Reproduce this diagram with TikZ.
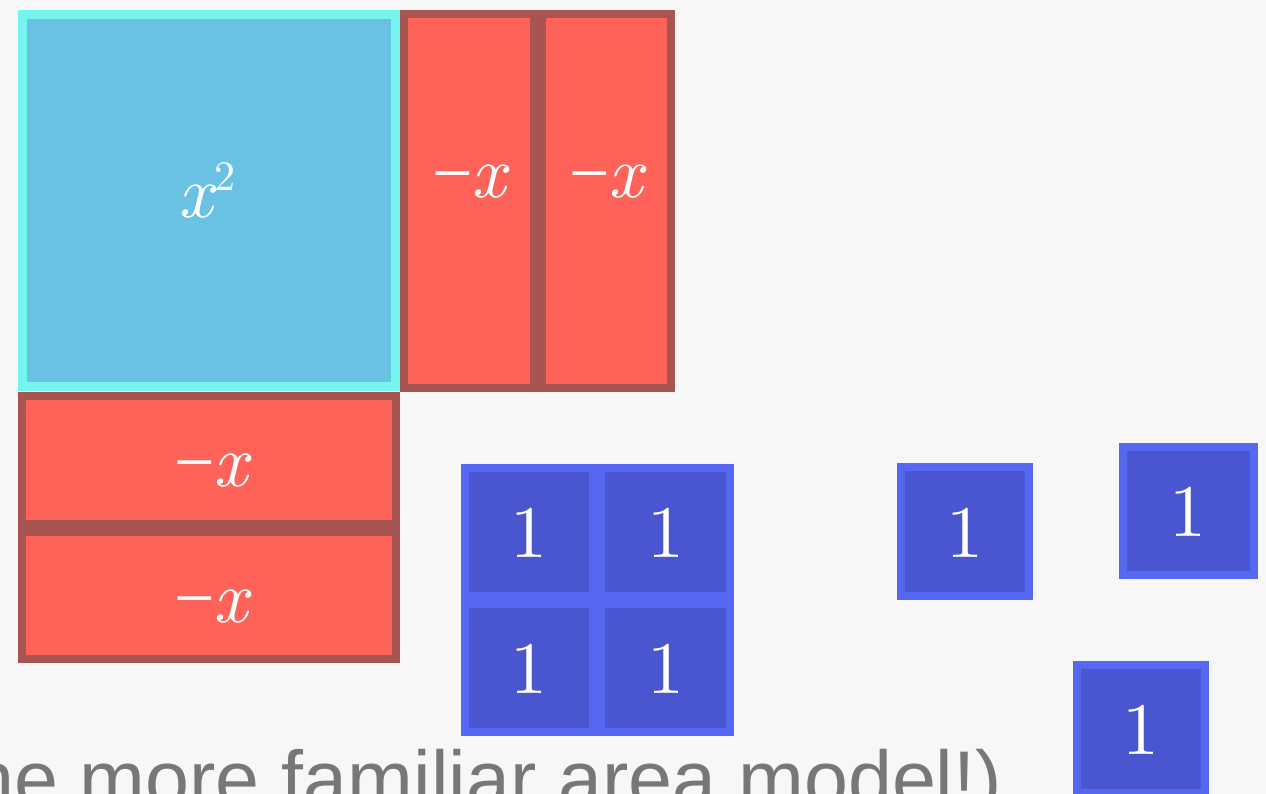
\documentclass[tikz,border=0pt]{standalone}
\usepackage{fontspec}
\newfontfamily\capfont{Liberation Sans}
\newfontfamily\minusfont{Liberation Serif}
\definecolor{bgc}{HTML}{F7F7F7}
\definecolor{sqfill}{HTML}{69C1E4}
\definecolor{sqline}{HTML}{74F5EE}
\definecolor{redfill}{HTML}{FF6259}
\definecolor{redline}{HTML}{A85450}
\definecolor{bluefill}{HTML}{4A56CF}
\definecolor{blueline}{HTML}{5668F2}
\definecolor{capgray}{HTML}{777777}
\newcommand{\bigx}{\scalebox{7.4}{\itshape x}}
\newcommand{\bigone}{\scalebox{7.4}{1}}
\newcommand{\negx}{\scalebox{7.2}{\minusfont −}\kern-2pt\bigx}
\tikzset{
  tile/.style={rectangle, inner sep=0pt, outer sep=0pt, line width=8pt},
  xsq/.style={tile, fill=sqfill, draw=sqline, line width=9pt},
  xtile/.style={tile, fill=redfill, draw=redline},
  onetile/.style={tile, fill=bluefill, draw=blueline},
  lab/.style={text=white, inner sep=0pt, anchor=base},
}
\begin{document}
\begin{tikzpicture}[x=1pt, y=-1pt]
\clip (0,0) rectangle (1266,794);
\fill[bgc] (0,0) rectangle (1266,794);
% x^2 square
\node[xsq, minimum width=373pt, minimum height=372pt] (sq) at (209,200.5) {};
% vertical -x tiles
\node[xtile, minimum width=130pt, minimum height=374pt] (v1) at (469,201) {};
\node[xtile, minimum width=129pt, minimum height=374pt] (v2) at (606.5,201) {};
% horizontal -x tiles
\node[xtile, minimum width=374pt, minimum height=128pt] (h1) at (209,460) {};
\node[xtile, minimum width=374pt, minimum height=127pt] (h2) at (209,595.5) {};
% 2x2 unit tiles
\node[onetile, minimum width=128pt, minimum height=128pt] (u11) at (529,532) {};
\node[onetile, minimum width=129pt, minimum height=128pt] (u12) at (665.5,532) {};
\node[onetile, minimum width=128pt, minimum height=128pt] (u21) at (529,668) {};
\node[onetile, minimum width=129pt, minimum height=128pt] (u22) at (665.5,668) {};
% loose unit tiles
\node[onetile, minimum width=128pt, minimum height=129pt] (ua) at (965,531.5) {};
\node[onetile, minimum width=131pt, minimum height=128pt] (ub) at (1188,511) {};
\node[onetile, minimum width=128pt, minimum height=128pt] (uc) at (1141,729) {};
% labels
\node[lab] (lsq) at (207,218) {\bigx\kern1pt\raisebox{27pt}{\scalebox{4.2}{2}}};
\node[lab] (lv1) at (469,198) {\negx};
\node[lab] (lv2) at (606,198) {\negx};
\node[lab] (lh1) at (211,486) {\negx};
\node[lab] (lh2) at (211,622) {\negx};
\node[lab] (l11) at (529,557) {\bigone};
\node[lab] (l12) at (665.5,557) {\bigone};
\node[lab] (l21) at (529,693) {\bigone};
\node[lab] (l22) at (665.5,693) {\bigone};
\node[lab] (la) at (965,557) {\bigone};
\node[lab] (lb) at (1188,536) {\bigone};
\node[lab] (lc) at (1141,754) {\bigone};
% caption
\node[anchor=base west, inner sep=0pt, text=capgray, font=\capfont\fontsize{79}{90}\selectfont] (cap) at (-30,806) {he more familiar area model!)};
\end{tikzpicture}
\end{document}
